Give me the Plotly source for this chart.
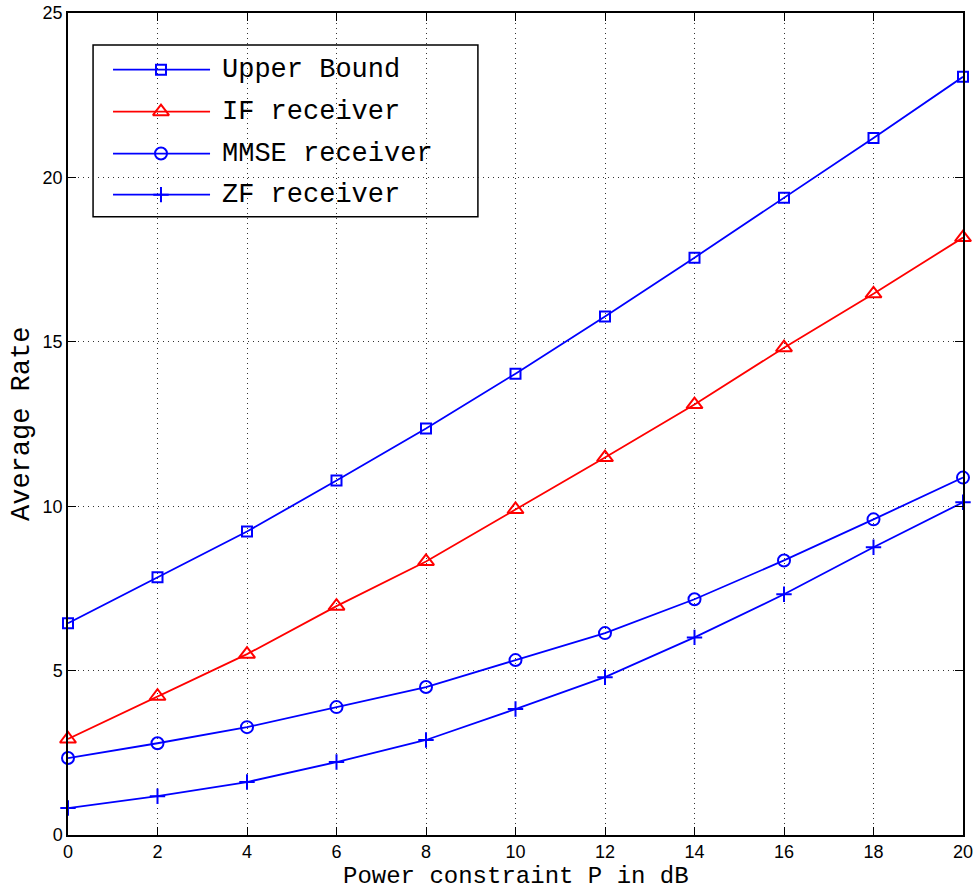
import plotly.graph_objects as go

# Transmit power in dB
power_db = [0, 2, 4, 6, 8, 10, 12, 14, 16, 18, 20]

# Average achievable rates per receiver
upper_bound = [6.44, 7.84, 9.23, 10.78, 12.36, 14.03, 15.77, 17.56, 19.38, 21.20, 23.06]
if_receiver = [2.92, 4.22, 5.50, 6.96, 8.32, 9.90, 11.48, 13.09, 14.82, 16.46, 18.17]
mmse_receiver = [2.34, 2.79, 3.28, 3.89, 4.50, 5.32, 6.14, 7.17, 8.35, 9.60, 10.87]
zf_receiver = [0.82, 1.18, 1.61, 2.22, 2.89, 3.83, 4.80, 6.01, 7.32, 8.75, 10.12]

x_ticks = [0, 2, 4, 6, 8, 10, 12, 14, 16, 18, 20]
y_ticks = [0, 5, 10, 15, 20, 25]

x_title = "Power constraint P in dB"
y_title = "Average Rate"

BLUE = "#0000FF"
RED = "#FF0000"
MONO = "Liberation Mono, Courier New, monospace"
SANS = "Liberation Sans, Arial, sans-serif"

series = [
    ("Upper Bound", upper_bound, BLUE, "square-open", 10),
    ("IF receiver", if_receiver, RED, "triangle-up-open", 14),
    ("MMSE receiver", mmse_receiver, BLUE, "circle-open", 12),
    ("ZF receiver", zf_receiver, BLUE, "cross-thin-open", 11),
]

fig = go.Figure()
for name, vals, color, symbol, size in series:
    fig.add_trace(go.Scatter(
        x=power_db, y=vals, name=name, mode="lines+markers",
        line=dict(color=color, width=1.8),
        marker=dict(symbol=symbol, size=size, color=color,
                    line=dict(color=color, width=2)),
        showlegend=False, cliponaxis=False,
    ))

# Boxed legend with long line samples, drawn on an overlay axis in [0, 1]
leg_x0, leg_x1 = 0.028, 0.458
leg_y0, leg_y1 = 0.752, 0.961
row_y = [0.931, 0.880, 0.829, 0.779]
line_x = [0.0503, 0.1587]
mark_x = 0.1039
text_x = 0.170

fig.add_shape(type="rect", xref="paper", yref="paper",
              x0=leg_x0, x1=leg_x1, y0=leg_y0, y1=leg_y1,
              line=dict(color="black", width=1.5), fillcolor="white",
              layer="between")
for (name, vals, color, symbol, size), ry in zip(series, row_y):
    fig.add_trace(go.Scatter(
        x=line_x, y=[ry, ry], xaxis="x2", yaxis="y2", mode="lines",
        line=dict(color=color, width=1.8), showlegend=False, hoverinfo="skip"))
    fig.add_trace(go.Scatter(
        x=[mark_x], y=[ry], xaxis="x2", yaxis="y2", mode="markers",
        marker=dict(symbol=symbol, size=size, color=color,
                    line=dict(color=color, width=2)),
        showlegend=False, hoverinfo="skip"))
    fig.add_annotation(x=text_x, y=ry, xref="paper", yref="paper",
                       text=name, showarrow=False, xanchor="left", yanchor="middle",
                       font=dict(family=MONO, size=27, color="black"))

# Axis titles
fig.add_annotation(x=0.5, y=-0.0678, xref="paper", yref="paper", text=x_title,
                   showarrow=False, xanchor="center", yanchor="bottom", borderpad=0,
                   font=dict(family=MONO, size=24, color="black"))
fig.add_annotation(x=-0.0514, y=0.5, xref="paper", yref="paper", text=y_title,
                   showarrow=False, xanchor="center", yanchor="middle", textangle=-90,
                   font=dict(family=MONO, size=27, color="black"))

axis_common = dict(
    showline=True, linecolor="black", linewidth=1.5, mirror="ticks",
    ticks="inside", ticklen=8, tickwidth=1, tickcolor="black",
    showgrid=True, gridcolor="#333333", gridwidth=1, griddash="1px,4px",
    zeroline=False, automargin=False,
    tickfont=dict(family=SANS, size=18, color="black"),
)

fig.update_layout(
    width=978, height=891,
    margin=dict(l=68, r=15, t=13, b=56),
    paper_bgcolor="white", plot_bgcolor="white",
    xaxis=dict(range=[0, 20], tickmode="array", tickvals=x_ticks, **axis_common),
    yaxis=dict(range=[0, 25], tickmode="array", tickvals=y_ticks, **axis_common),
    xaxis2=dict(range=[0, 1], overlaying="x", anchor="y2", visible=False, fixedrange=True),
    yaxis2=dict(range=[0, 1], overlaying="y", anchor="x2", visible=False, fixedrange=True),
)

fig.write_html("out.html")
